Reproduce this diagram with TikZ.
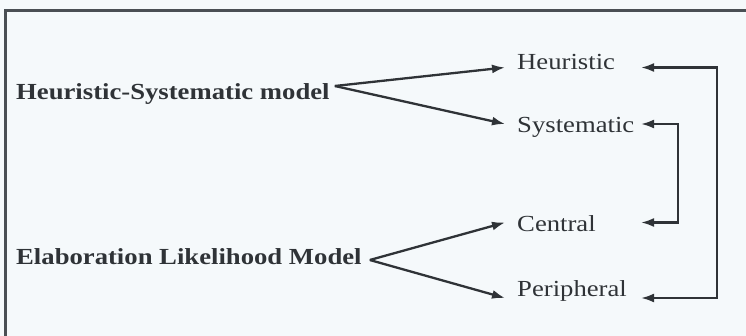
\documentclass[tikz,border=0pt]{standalone}
\usepackage{fontspec}
\setmainfont{Liberation Serif}[FakeStretch=1.16]
\usetikzlibrary{arrows.meta}
\definecolor{ink}{HTML}{2F3337}
\definecolor{paper}{HTML}{F5F9FB}
\definecolor{framec}{HTML}{4A4F54}

\begin{document}
\begin{tikzpicture}[x=1pt,y=-1pt,
    txt/.style={inner sep=0pt,anchor=base west,text=ink,font=\fontsize{23}{28}\selectfont},
    model/.style={txt,font=\fontsize{23}{28}\selectfont\bfseries},
    arr/.style={draw=ink,line width=2.3pt,-{Latex[length=13pt,width=9pt]}},
    twoway/.style={draw=ink,line width=2.3pt,{Latex[length=13pt,width=9pt]}-{Latex[length=13pt,width=9pt]}}]

    % Paper and frame
    \fill[paper] (0,0) rectangle (746,336);
    \useasboundingbox (0,0) rectangle (746,336);
    \draw[framec,line width=3pt] (5,336) -- (5,11) -- (746,11);

    % Models
    \node[model] (hsm) at (16,100) {Heuristic-Systematic model};
    \node[model] (elm) at (16,265) {Elaboration Likelihood Model};

    % Processing routes
    \node[txt] (heur) at (517,70) {Heuristic};
    \node[txt] (syst) at (517,133) {Systematic};
    \node[txt] (cent) at (517,232) {Central};
    \node[txt] (peri) at (517,297) {Peripheral};

    % Arrow ends
    \path (hsm.base east) ++(5,-14) coordinate (hsmOut);
    \path (elm.base east) ++(8,-5) coordinate (elmOut);
    \path (heur.base west) ++(-12,-2.5) coordinate (heurIn);
    \path (syst.base west) ++(-12,-9) coordinate (systIn);
    \path (cent.base west) ++(-12,-9.5) coordinate (centIn);
    \path (peri.base west) ++(-12,1) coordinate (periIn);
    \coordinate (rail) at (641,0);
    \coordinate (innerRail) at (678,0);
    \coordinate (outerRail) at (717,0);

    % Model -> route
    \foreach \r in {heurIn,systIn}
        \draw[arr] (hsmOut) -- (\r);
    \foreach \r in {centIn,periIn}
        \draw[arr] (elmOut) -- (\r);

    % Links between routes
    \draw[twoway] (heurIn -| rail) -- (heurIn -| outerRail) -- (periIn -| outerRail) -- (periIn -| rail);
    \draw[twoway] (systIn -| rail) -- (systIn -| innerRail) -- (centIn -| innerRail) -- (centIn -| rail);

\end{tikzpicture}
\end{document}
